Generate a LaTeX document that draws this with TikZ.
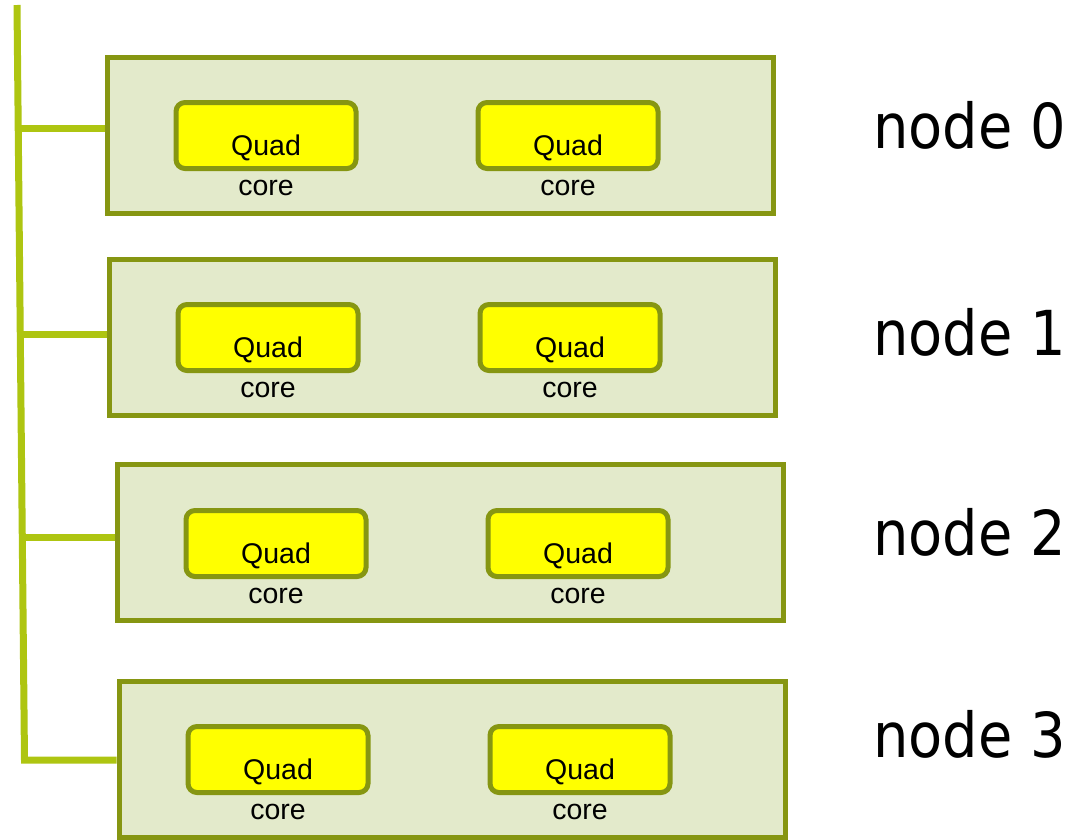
\documentclass[tikz,border=0pt]{standalone}
\usepackage{fontspec}
\setmainfont{Liberation Sans}
\newfontfamily\labfont{DejaVu Sans Condensed}
\usetikzlibrary{calc}
\definecolor{olive}{HTML}{869612}
\definecolor{boxfill}{HTML}{E3EACB}
\definecolor{bus}{HTML}{AEC511}
\definecolor{quadfill}{HTML}{FFFF00}
\tikzset{
  nodebox/.style={draw=olive, fill=boxfill, line width=5pt, minimum width=666pt, minimum height=156pt, inner sep=0pt, anchor=north west},
  quadbox/.style={draw=olive, fill=quadfill, line width=5pt, rounded corners=9pt, minimum width=180pt, minimum height=66pt, inner sep=0pt, anchor=north west},
  quadtxt/.style={font=\fontsize{28.5}{30}\selectfont, anchor=base, inner sep=0pt},
  labtxt/.style={font=\labfont\fontsize{62}{66}\selectfont, anchor=base west, inner sep=0pt},
  busline/.style={draw=bus, line width=7pt}
}
\begin{document}
\begin{tikzpicture}[x=1pt,y=-1pt]
\useasboundingbox (0,0) rectangle (1072,839);
% node boxes: (left, top) and quad boxes
\foreach \i/\bx/\by/\qa/\qb/\qy/\ly in {0/104.5/55/173.5/475.5/100/148, 1/106.5/257/175.5/477.5/302/355, 2/114.5/462/183.5/485.5/508/555, 3/116.5/679/185.5/487.5/724/757}{
  \node[nodebox] (n\i) at (\bx,\by) {};
  \node[quadbox] (qa\i) at (\qa,\qy) {};
  \node[quadbox] (qb\i) at (\qb,\qy) {};
  \node[quadtxt] (qat\i) at ($(qa\i.north)+(0,55)$) {Quad};
  \node[quadtxt] (qac\i) at ($(qa\i.north)+(0,95)$) {core};
  \node[quadtxt] (qbt\i) at ($(qb\i.north)+(0,55)$) {Quad};
  \node[quadtxt] (qbc\i) at ($(qb\i.north)+(0,95)$) {core};
  \node[labtxt] (lab\i) at (873,\ly) {node \i};
}
% bus
\coordinate (bustop) at (17,5);
\coordinate (busbot) at (24.5,760);
\draw[busline, line cap=butt] (bustop) -- (busbot) -- (n3.west |- busbot);
\foreach \i/\y in {0/129, 1/335, 2/537}{
  \coordinate (br\i) at ($(bustop)!{(\y-5)/755}!(busbot)$);
  \draw[busline] (br\i) -- (n\i.west |- br\i);
}
\end{tikzpicture}
\end{document}
